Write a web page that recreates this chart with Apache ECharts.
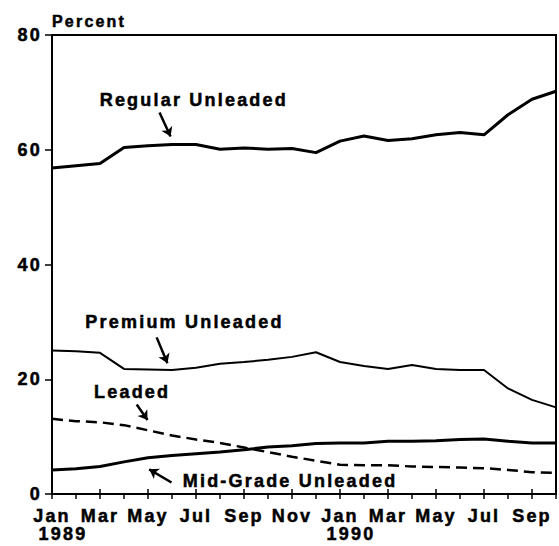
<!DOCTYPE html>
<html>
<head>
<meta charset="utf-8">
<style>
  html, body { margin: 0; padding: 0; background: #fff; }
  #chart { width: 559px; height: 546px; }
  #chart svg text { letter-spacing: 2.2px; }
</style>
<script src="https://cdn.jsdelivr.net/npm/echarts@6/dist/echarts.min.js"></script>
</head>
<body>
<div id="chart"></div>
<script>
// Months Jan 1989 .. Oct 1990 (index 0..21)
const monthTickLabels = ['Jan', 'Mar', 'May', 'Jul', 'Sep', 'Nov', 'Jan', 'Mar', 'May', 'Jul', 'Sep'];
const yearLabels = { 0: '1989', 12: '1990' };
const yTicks = [0, 20, 40, 60, 80];

const regularUnleaded = [56.8, 57.2, 57.6, 60.4, 60.7, 60.9, 60.9, 60.1, 60.3, 60.1, 60.2, 59.5, 61.5, 62.4, 61.6, 61.9, 62.6, 63.0, 62.6, 66.1, 68.8, 70.2];
const premiumUnleaded = [25.0, 24.9, 24.6, 21.8, 21.7, 21.6, 22.0, 22.7, 23.0, 23.4, 23.9, 24.7, 23.0, 22.3, 21.8, 22.5, 21.8, 21.6, 21.6, 18.4, 16.4, 15.1];
const leaded = [13.1, 12.7, 12.5, 12.0, 11.1, 10.2, 9.5, 8.9, 8.1, 7.3, 6.5, 5.8, 5.1, 5.0, 5.0, 4.8, 4.7, 4.6, 4.5, 4.2, 3.8, 3.7];
const midGradeUnleaded = [4.2, 4.4, 4.8, 5.6, 6.3, 6.7, 7.0, 7.3, 7.7, 8.2, 8.4, 8.8, 8.9, 8.9, 9.2, 9.2, 9.3, 9.5, 9.6, 9.2, 8.9, 8.9];

// Annotation positions in data units [month index, percent]
const annotations = [
  { text: 'Regular Unleaded', at: [5.91, 68.6], arrow: [[4.48, 66.5], [4.94, 62.3]] },
  { text: 'Premium Unleaded', at: [5.52, 29.9], arrow: [[4.36, 27.3], [4.81, 22.8]] },
  { text: 'Leaded', at: [3.34, 17.7], arrow: [[3.53, 15.6], [3.98, 12.9]] },
  { text: 'Mid-Grade Unleaded', at: [9.92, 2.2], arrow: [[4.98, 2.0], [4.05, 4.3]] }
];

const FONT = 'Liberation Sans';
const HEAVY = { textBorderColor: '#000', textBorderWidth: 0.5 };
const pairs = arr => arr.map((v, i) => [i, v]);

const chart = echarts.init(document.getElementById('chart'), null, { renderer: 'svg' });

const textSeries = {
  type: 'scatter',
  data: [],
  silent: true,
  markPoint: {
    silent: true,
    animation: false,
    data: annotations.map(a => ({
      coord: a.at,
      symbol: 'circle',
      symbolSize: 0,
      label: Object.assign({
        show: true,
        position: 'inside',
        formatter: a.text,
        color: '#000',
        fontFamily: FONT,
        fontWeight: 'bold',
        fontSize: 18
      }, HEAVY)
    }))
  },
  markLine: {
    silent: true,
    animation: false,
    symbol: ['none', 'arrow'],
    symbolSize: 9,
    label: { show: false },
    lineStyle: { color: '#000', width: 2.5, type: 'solid' },
    data: annotations.map(a => [{ coord: a.arrow[0] }, { coord: a.arrow[1] }])
  }
};

const richBase = Object.assign({ fontFamily: FONT, fontWeight: 'bold', fontSize: 18, color: '#000', lineHeight: 18 }, HEAVY);

const option = {
  animation: false,
  backgroundColor: '#fff',
  grid: {
    left: 52, right: 1, top: 35, bottom: 52,
    show: true, borderColor: '#000', borderWidth: 2, backgroundColor: 'transparent'
  },
  xAxis: [
    {
      type: 'value', min: 0, max: 21, interval: 1,
      splitLine: { show: false },
      axisLine: { show: true, onZero: false, lineStyle: { color: '#000', width: 2 } },
      axisTick: { show: true, length: 5, lineStyle: { color: '#000', width: 1.5 } },
      axisLabel: Object.assign({
        margin: 13,
        color: '#000', fontFamily: FONT, fontWeight: 'bold', fontSize: 18,
        lineHeight: 18,
        formatter: v => {
          if (v % 2 !== 0 || v > 20) return '';
          const m = monthTickLabels[v / 2];
          return yearLabels[v] ? '{m|' + m + '}\n{y|' + yearLabels[v] + '}' : '{m|' + m + '}';
        },
        rich: {
          m: Object.assign({}, richBase),
          y: Object.assign({}, richBase, { padding: [0, 0, 0, 22] })
        }
      }, HEAVY)
    },
    {
      type: 'value', min: 0, max: 21, interval: 2, position: 'bottom',
      splitLine: { show: false },
      axisLine: { show: false },
      axisTick: { show: true, inside: true, length: 5, lineStyle: { color: '#000', width: 1.5 } },
      axisLabel: { show: false }
    }
  ],
  yAxis: {
    type: 'value', min: yTicks[0], max: yTicks[yTicks.length - 1], interval: 20,
    name: 'Percent',
    nameLocation: 'end',
    nameGap: 6,
    nameTextStyle: Object.assign({ color: '#000', fontFamily: FONT, fontWeight: 'bold', fontSize: 16, align: 'left', padding: [0, 0, 0, 0] }, HEAVY),
    splitLine: { show: false },
    axisLine: { show: true, lineStyle: { color: '#000', width: 2 } },
    axisTick: { show: true, length: 7, lineStyle: { color: '#000', width: 1.5 } },
    axisLabel: Object.assign({ margin: 10, color: '#000', fontFamily: FONT, fontWeight: 'bold', fontSize: 18 }, HEAVY)
  },
  series: [
    {
      name: 'Regular Unleaded', type: 'line', data: pairs(regularUnleaded),
      showSymbol: false, lineStyle: { color: '#000', width: 3 }, z: 3
    },
    {
      name: 'Premium Unleaded', type: 'line', data: pairs(premiumUnleaded),
      showSymbol: false, lineStyle: { color: '#000', width: 2 }, z: 3
    },
    {
      name: 'Leaded', type: 'line', data: pairs(leaded),
      showSymbol: false, lineStyle: { color: '#000', width: 2.5, type: [11, 6] }, z: 3
    },
    {
      name: 'Mid-Grade Unleaded', type: 'line', data: pairs(midGradeUnleaded),
      showSymbol: false, lineStyle: { color: '#000', width: 3 }, z: 3
    },
    textSeries
  ]
};

chart.setOption(option);
</script>
</body>
</html>
